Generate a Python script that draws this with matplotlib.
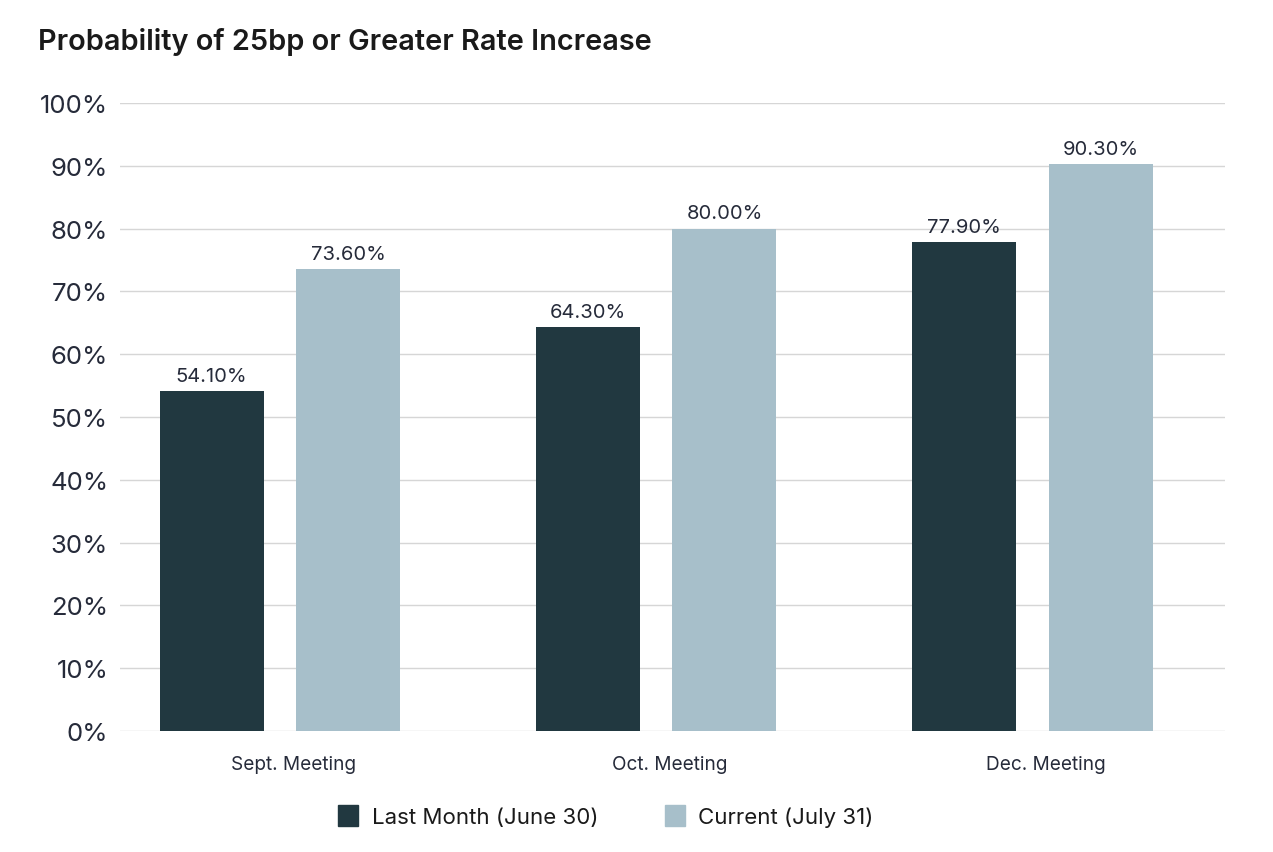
import matplotlib
matplotlib.use("Agg")
import matplotlib.pyplot as plt
from matplotlib.patches import Patch
import matplotlib.transforms as mtrans
import numpy as np

categories = ["Sept. Meeting", "Oct. Meeting", "Dec. Meeting"]
last_month = [54.1, 64.3, 77.9]
current = [73.6, 80.0, 90.3]
series_names = ["Last Month (June 30)", "Current (July 31)"]
yticks = [0, 10, 20, 30, 40, 50, 60, 70, 80, 90, 100]

dark = "#213840"
light = "#A7BFCA"
text_col = "#262b3a"

plt.rcParams['font.family'] = ['Inter', 'DejaVu Sans']

fig = plt.figure(figsize=(12.73, 8.53), dpi=100)
ax = fig.add_axes([120/1273, 1-732/853, (1225-120)/1273, (732-104)/853])

x = np.arange(len(categories))
w = 0.2766
off = 0.182
b1 = ax.bar(x - off, last_month, w, color=dark, zorder=3)
b2 = ax.bar(x + off, current, w, color=light, zorder=3)

for bars, vals in ((b1, last_month), (b2, current)):
    for r, v in zip(bars, vals):
        ax.annotate(f"{v:.2f}%", (r.get_x() + r.get_width()/2, v),
                    xytext=(0, 4.5), textcoords="offset points",
                    ha="center", va="bottom", fontsize=14.5, color=text_col)

ax.set_xlim(-0.4255, 2.513)
ax.set_ylim(0, 100)
ax.set_yticks(yticks)
ax.set_yticklabels([f"{t}%" for t in yticks], fontsize=18.5, color=text_col)
ax.set_xticks(x)
ax.set_xticklabels(categories, fontsize=13.7, color=text_col)
ax.tick_params(axis='both', length=0)
ax.tick_params(axis='y', pad=8.5)
ax.tick_params(axis='x', pad=17.5)
shift = mtrans.ScaledTranslation(14/100, 0, fig.dpi_scale_trans)
for lbl in ax.get_xticklabels():
    lbl.set_transform(lbl.get_transform() + shift)
ax.grid(axis='y', color="#d6d6d6", linewidth=1, zorder=0)
for s in ax.spines.values():
    s.set_visible(False)

fig.text(38/1273, 1-42/853, "Probability of 25bp or Greater Rate Increase",
         fontsize=20.8, fontweight='semibold', color="#1a1a1a", va="center", ha="left")

handles = [Patch(facecolor=dark, edgecolor=dark), Patch(facecolor=light, edgecolor=light)]
fig.legend(handles, series_names, loc="center", bbox_to_anchor=(0.476, 1-817/853),
           ncol=2, frameon=False, fontsize=16, handlelength=0.9, handleheight=1.1,
           handletextpad=0.6, columnspacing=3.0, labelcolor="#1a1a1a")

fig.savefig("out.png", dpi=100, facecolor="white")
